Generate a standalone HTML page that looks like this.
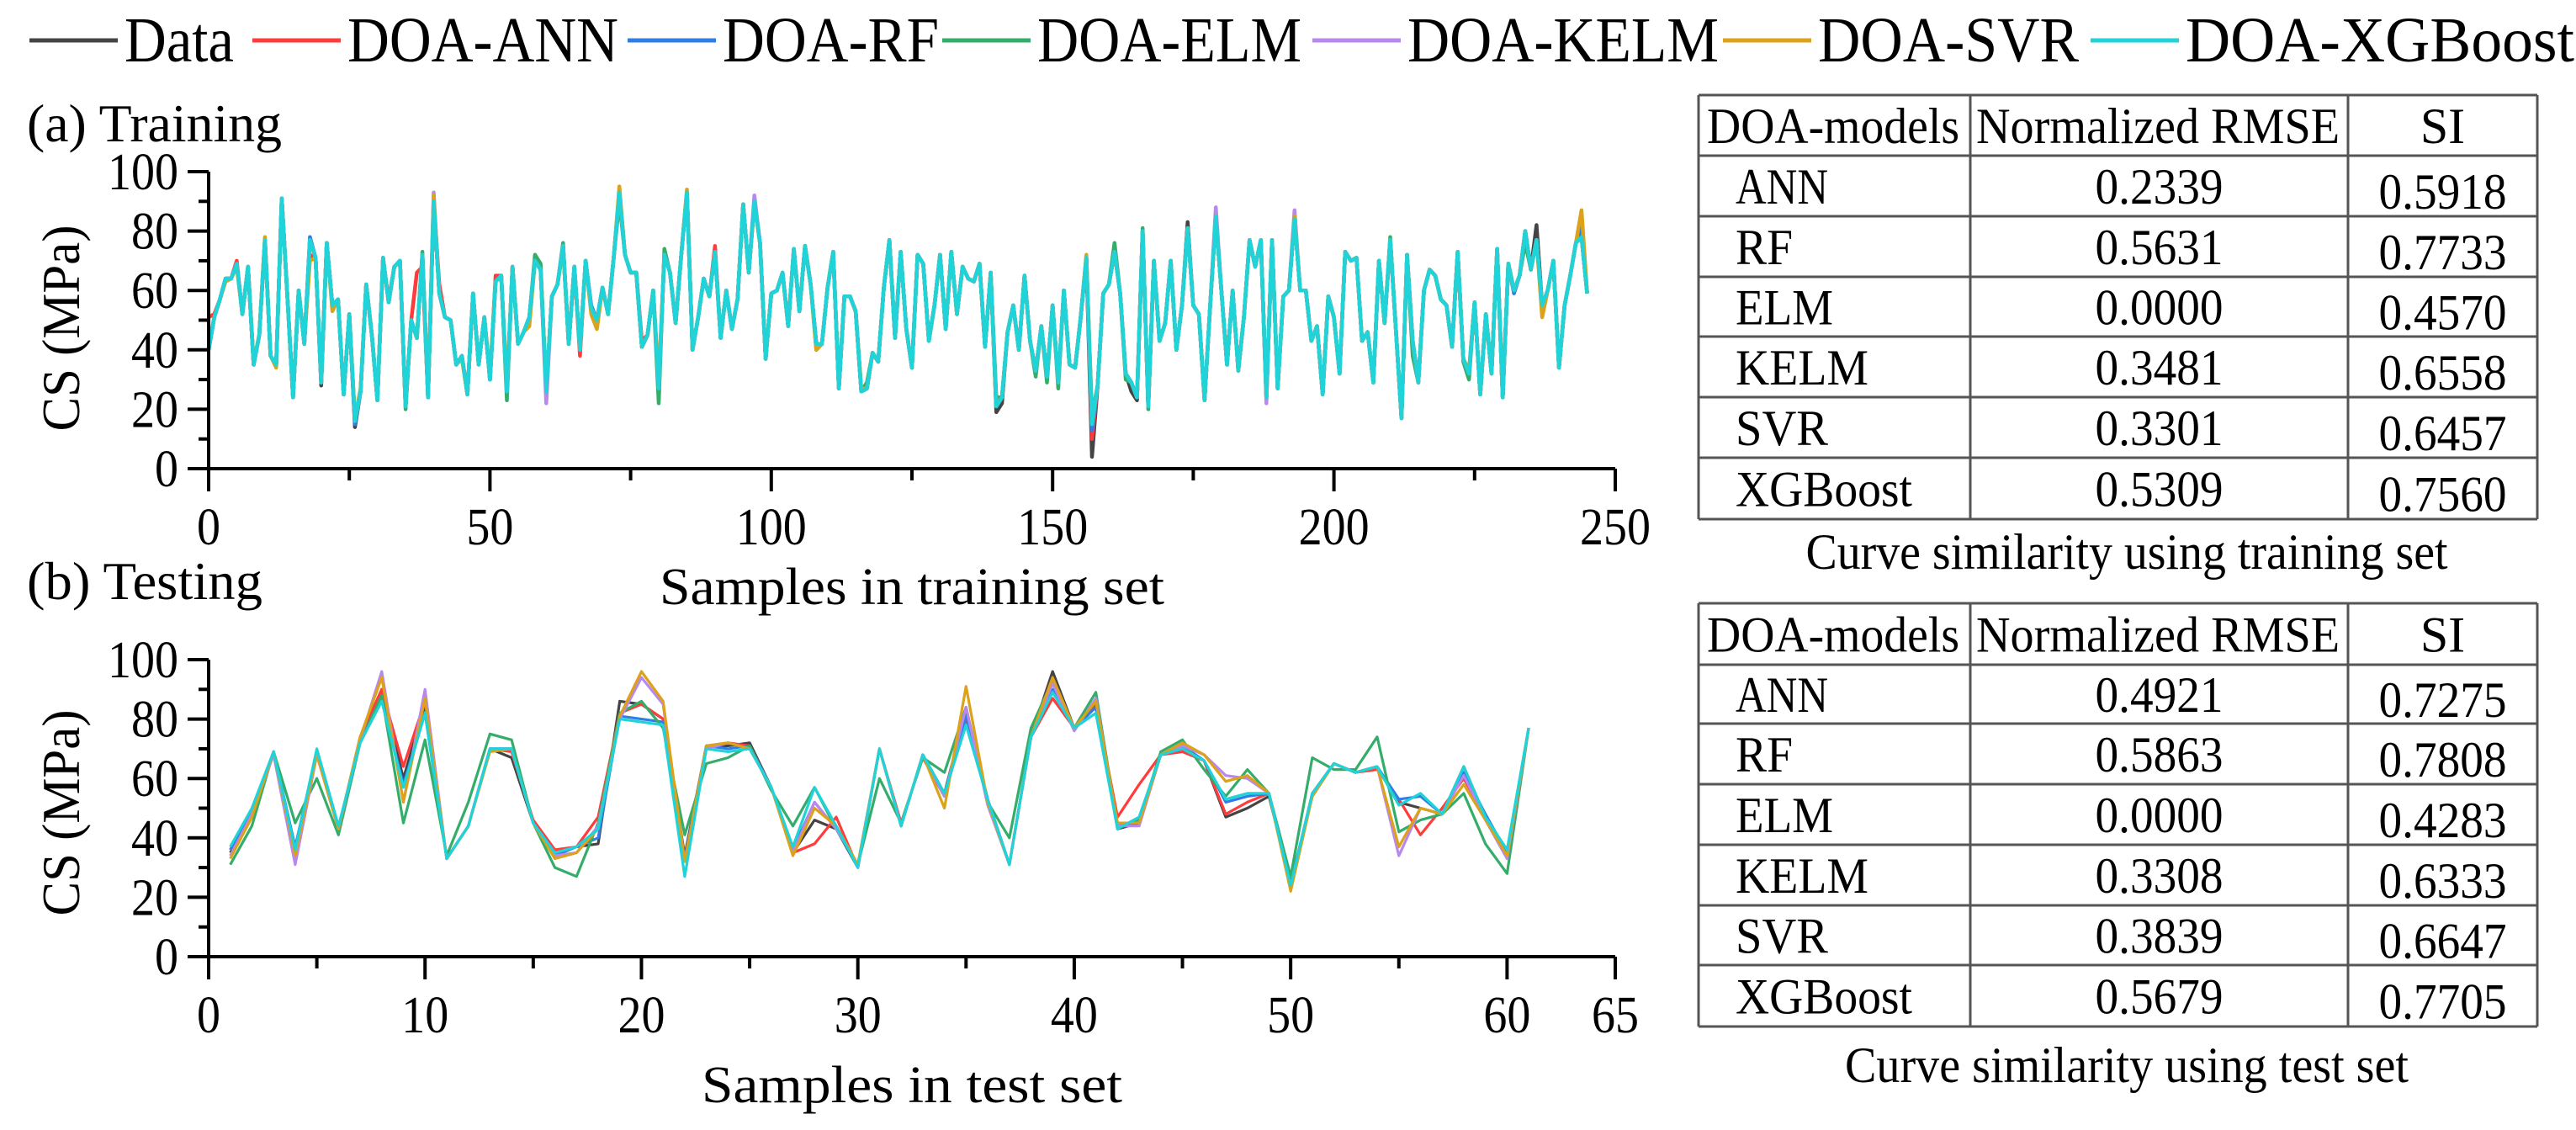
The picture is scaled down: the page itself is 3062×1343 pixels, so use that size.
<!DOCTYPE html>
<html><head><meta charset="utf-8"><style>
html,body{margin:0;padding:0;background:#fff;}
svg{display:block;font-family:"Liberation Serif","DejaVu Serif",serif;}
</style></head><body>
<svg id="fig" width="3062" height="1343" viewBox="0 0 3062 1343" xmlns="http://www.w3.org/2000/svg">
<g id="legend"></g>
<text x="32" y="168" font-size="64" textLength="303" lengthAdjust="spacingAndGlyphs">(a) Training</text>
<text x="32" y="712" font-size="64" textLength="280" lengthAdjust="spacingAndGlyphs">(b) Testing</text>
<text transform="translate(94,390) rotate(-90)" text-anchor="middle" font-size="64" textLength="245" lengthAdjust="spacingAndGlyphs">CS (MPa)</text>
<text transform="translate(94,966) rotate(-90)" text-anchor="middle" font-size="64" textLength="245" lengthAdjust="spacingAndGlyphs">CS (MPa)</text>
<text x="1084" y="718" text-anchor="middle" font-size="62" textLength="600" lengthAdjust="spacingAndGlyphs">Samples in training set</text>
<text x="1084" y="1310" text-anchor="middle" font-size="62" textLength="500" lengthAdjust="spacingAndGlyphs">Samples in test set</text>
<g id="trainChart"></g>
<g id="testChart"></g>
<g id="tables"></g>
<text x="2528" y="676" text-anchor="middle" font-size="60" textLength="763" lengthAdjust="spacingAndGlyphs">Curve similarity using training set</text>
<text x="2528" y="1286" text-anchor="middle" font-size="60" textLength="670" lengthAdjust="spacingAndGlyphs">Curve similarity using test set</text>
</svg>
<script>
const seriesNames = ["Data","DOA-ANN","DOA-RF","DOA-ELM","DOA-KELM","DOA-SVR","DOA-XGBoost"];
const seriesColors = ["#444444","#ff3b3b","#2f7de6","#35ad6a","#b888ee","#dca21a","#1fd3d8"];

const trainData = [40,51,57,64,64,69,52,68,35,45,77,38,35,91,58,24,60,42,77,71,28,76,55,57,25,52,14,26,62,45,23,71,56,68,70,21,50,44,72,24,90,59,51,50,35,38,25,59,35,51,30,63,65,26,68,42,46,51,70,67,26,58,62,75,42,68,40,70,54,50,61,52,71,93,72,66,66,41,45,60,27,72,66,49,72,93,40,51,64,58,73,44,60,47,57,89,66,90,76,37,59,60,66,48,74,53,75,62,42,42,61,73,27,58,58,53,26,27,39,36,61,77,44,73,47,34,72,69,43,55,72,47,73,52,68,64,63,69,41,66,19,22,46,55,40,65,43,33,48,31,55,29,60,35,34,51,71,4,28,59,62,73,59,32,26,23,80,21,70,43,49,70,40,55,83,55,52,23,55,85,60,35,60,33,51,77,68,77,24,77,27,58,60,84,60,60,43,48,25,58,51,32,73,70,71,43,46,29,70,49,77,47,17,72,43,29,60,67,65,57,55,41,73,37,32,56,25,52,32,74,24,69,60,65,80,67,82,55,60,70,34,55,65,76,78,59];
const trainANN = [51,52,57,64,64,70,52,68,35,45,77,38,35,91,58,24,60,42,72,71,29,76,55,57,25,52,16,26,62,45,23,70,57,68,70,21,50,66,68,24,90,62,51,50,35,38,25,59,35,51,30,65,65,26,68,42,46,51,70,67,26,58,62,75,42,68,38,70,54,50,61,52,71,93,72,66,66,43,45,60,27,72,66,49,72,93,40,51,64,58,75,44,60,47,57,89,66,90,76,37,59,60,66,48,74,53,75,62,42,42,61,73,27,58,58,53,26,27,39,36,61,77,44,73,47,34,72,69,43,55,72,47,73,52,68,64,63,69,41,66,22,24,46,55,40,65,43,33,48,31,55,29,60,35,34,51,71,10,28,59,62,73,59,32,29,24,80,21,70,43,49,70,40,55,81,55,52,23,55,85,60,35,60,33,51,77,68,77,24,77,27,58,60,84,60,60,43,48,25,58,51,32,73,70,71,43,46,29,70,49,77,47,17,72,43,29,60,67,65,57,55,41,73,37,32,56,25,52,32,74,24,69,60,65,80,67,77,55,60,70,34,55,65,76,78,59];
const trainRF = [40,51,57,64,64,69,52,68,35,45,77,38,35,91,58,24,60,42,78,71,29,76,55,57,25,52,15,26,62,45,23,71,56,68,70,21,50,44,72,24,90,59,51,50,35,38,25,59,35,51,30,63,65,26,68,42,46,51,70,67,26,58,62,75,42,68,40,70,55,50,61,52,71,93,72,66,66,41,45,60,27,72,66,49,72,93,40,51,64,58,73,44,60,47,57,89,66,90,76,37,59,60,66,48,74,53,75,62,42,42,61,73,27,58,58,53,26,27,39,36,61,77,44,73,47,34,72,69,43,55,72,47,73,52,68,64,63,69,41,66,21,24,46,55,40,65,43,33,48,31,55,29,60,35,34,51,71,13,28,59,62,73,59,32,29,24,80,21,70,43,49,70,40,55,81,55,52,23,55,85,60,35,60,33,51,77,68,77,24,77,27,58,60,84,60,60,43,48,25,58,51,32,73,70,71,43,46,29,70,49,77,47,17,72,43,29,60,67,65,57,55,41,73,37,32,56,25,52,32,74,24,69,59,65,80,67,77,55,60,70,34,55,65,76,81,59];
const trainELM = [40,51,57,64,64,69,52,68,35,45,77,38,35,91,58,24,60,42,77,71,29,76,55,57,25,52,16,26,62,45,23,71,56,68,70,20,50,44,73,24,90,59,51,50,35,38,25,59,35,51,30,63,65,23,68,42,46,51,72,69,26,58,62,76,42,68,40,70,54,50,61,52,71,90,72,66,66,41,45,60,22,74,66,49,72,93,40,51,64,58,73,44,60,47,57,89,66,90,76,37,59,60,66,48,74,53,75,62,40,42,61,73,27,58,58,53,26,29,39,36,61,77,44,73,47,34,72,69,43,55,72,47,73,52,68,64,63,69,41,66,24,24,46,55,40,65,43,31,48,29,55,27,60,35,34,51,71,18,28,59,62,76,59,30,29,24,81,20,70,43,49,70,40,55,81,55,52,23,55,85,60,35,60,33,51,77,68,77,24,77,27,58,60,84,60,60,43,48,25,58,51,32,73,70,71,43,46,29,70,49,78,47,17,72,38,29,60,67,65,57,55,41,73,36,30,56,25,52,32,74,24,69,60,65,76,67,77,55,60,70,34,55,65,76,78,59];
const trainKELM = [40,51,57,64,64,69,52,68,35,45,77,38,35,91,58,24,60,42,77,71,29,76,55,57,25,52,16,26,62,45,23,71,56,68,70,21,50,44,72,24,93,59,51,50,35,38,25,59,35,51,30,63,65,26,68,42,46,51,70,67,22,58,62,75,42,68,40,70,54,50,61,52,71,93,72,66,66,41,45,60,27,72,66,49,72,93,40,51,64,58,73,44,60,47,57,89,66,92,76,37,59,60,66,48,74,53,75,62,42,42,61,73,27,58,58,53,26,27,39,36,61,77,44,73,47,34,72,69,43,55,72,47,73,52,68,64,63,69,41,66,21,24,46,55,40,65,43,33,48,31,55,29,60,35,34,51,71,15,28,59,62,73,59,32,29,24,80,21,70,43,49,70,40,55,81,55,52,23,55,88,60,35,60,33,51,77,68,77,22,77,27,58,60,87,60,60,43,48,25,58,51,32,73,70,71,43,46,29,70,49,77,47,17,72,43,29,60,67,65,57,55,41,73,37,32,56,25,52,32,74,24,69,60,65,80,67,77,55,60,70,34,55,65,76,78,59];
const trainSVR = [41,51,57,63,64,68,52,68,36,45,78,38,34,91,58,24,60,43,70,71,29,76,53,57,25,52,17,27,62,45,23,71,56,68,70,21,50,44,72,24,92,59,51,50,35,37,25,59,35,51,32,63,65,28,68,42,46,48,70,67,27,58,62,74,42,68,40,70,52,47,61,52,71,95,72,66,66,41,45,60,30,72,66,49,72,94,40,51,64,58,73,44,60,47,57,89,66,89,76,37,59,60,66,48,74,53,75,62,40,42,61,73,28,58,58,53,27,27,39,36,61,77,44,73,47,34,72,69,43,55,72,47,73,52,68,64,63,69,41,66,21,24,46,55,40,65,43,33,48,31,55,29,60,35,34,51,72,15,28,59,62,73,59,32,29,24,80,21,70,43,49,70,40,55,81,55,52,23,55,85,60,35,60,33,51,77,68,77,24,77,27,58,60,85,60,60,43,48,25,58,51,32,73,70,71,43,46,29,70,49,77,47,17,72,43,29,60,67,65,57,55,41,73,37,33,56,25,52,32,74,24,69,60,65,80,67,77,51,60,70,34,55,65,76,87,59];
const trainXGB = [40,51,57,64,64,69,52,68,35,45,77,38,35,91,58,24,60,42,77,71,29,76,55,57,25,52,16,26,62,45,23,71,56,68,70,21,50,44,72,24,90,59,51,50,35,38,25,59,35,51,30,63,65,26,68,42,46,51,70,67,26,58,62,75,42,68,40,70,54,50,61,52,71,93,72,66,66,41,45,60,27,72,66,49,72,93,40,51,64,58,73,44,60,47,57,89,66,90,76,37,59,60,66,48,74,53,75,62,42,42,61,73,27,58,58,53,26,27,39,36,61,77,44,73,47,34,72,69,43,55,72,47,73,52,68,64,63,69,41,66,21,24,46,55,40,65,43,33,48,31,55,29,60,35,34,51,71,15,28,59,62,73,59,32,29,24,80,21,70,43,49,70,40,55,81,55,52,23,55,85,60,35,60,33,51,77,68,77,24,77,27,58,60,84,60,60,43,48,25,58,51,32,73,70,71,43,46,29,70,49,77,47,17,72,43,29,60,67,65,57,55,41,73,37,32,56,25,52,32,74,24,69,60,65,80,67,77,55,60,70,34,55,65,76,78,59];

const testData = [35,47,69,32,69,43,73,90,60,85,33,44,70,67,45,35,37,38,86,85,80,34,71,71,72,57,35,46,43,30,70,44,68,55,83,53,31,74,96,77,84,43,45,68,70,66,47,50,54,25,54,65,62,64,52,50,48,64,47,35,77];
const testANN = [36,49,69,33,68,43,74,90,64,86,33,44,70,69,46,36,37,47,82,85,80,33,71,72,71,57,35,38,47,30,70,45,67,54,80,53,31,74,87,77,85,47,58,68,69,66,48,52,55,24,55,65,62,63,53,41,50,60,47,34,77];
const testRF = [36,49,69,37,69,43,72,87,58,82,33,44,70,70,45,34,37,40,81,80,79,33,71,70,71,57,36,52,43,31,70,44,68,54,81,53,31,74,90,77,84,43,47,68,71,66,52,54,55,24,55,65,62,64,53,54,48,62,48,35,77];
const testELM = [31,44,69,45,60,41,72,88,45,73,34,52,75,73,45,30,27,45,82,86,77,41,65,67,71,56,44,57,43,31,60,45,67,62,84,52,40,77,93,77,89,44,46,69,73,63,54,63,55,27,67,63,63,74,42,46,48,55,38,28,77];
const testKELM = [34,48,68,31,68,43,73,96,52,90,33,44,70,70,45,34,35,44,80,94,85,32,70,72,70,57,35,52,43,31,70,44,68,54,84,51,31,74,92,76,87,44,44,68,71,68,61,60,55,23,55,65,62,64,34,50,48,61,46,33,77];
const testSVR = [33,47,69,34,68,43,74,94,52,87,33,44,69,70,45,33,35,43,81,96,86,32,71,72,70,57,34,50,44,31,70,44,68,50,91,52,31,74,94,77,86,45,45,68,72,68,59,61,55,22,54,65,62,64,37,50,48,58,46,34,77];
const testXGB = [37,50,69,36,70,44,72,86,57,82,33,44,70,70,45,35,37,43,80,79,78,27,70,69,70,57,37,57,44,30,70,44,68,55,78,53,31,74,89,77,82,43,47,68,70,66,53,55,55,24,55,65,62,64,51,55,48,64,47,36,77];

const yTicks = [0,20,40,60,80,100];
const trainXTicks = [0,50,100,150,200,250];
const testXTicks = [0,10,20,30,40,50,60,65];

const tableHeader = ["DOA-models","Normalized RMSE","SI"];
const modelNames = ["ANN","RF","ELM","KELM","SVR","XGBoost"];
const trainRMSE = ["0.2339","0.5631","0.0000","0.3481","0.3301","0.5309"];
const trainSI = ["0.5918","0.7733","0.4570","0.6558","0.6457","0.7560"];
const testRMSE = ["0.4921","0.5863","0.0000","0.3308","0.3839","0.5679"];
const testSI = ["0.7275","0.7808","0.4283","0.6333","0.6647","0.7705"];

const NS = "http://www.w3.org/2000/svg";
function mk(tag, attrs, parent){ const e=document.createElementNS(NS,tag); for(const k in attrs) e.setAttribute(k,attrs[k]); parent.appendChild(e); return e; }

const legend = document.getElementById('legend');
const legLineX = [35,300,746,1120,1560,2048,2485];
const legTextW = [130,322,257,314,370,310,462];
seriesNames.forEach((n,i)=>{
  const l = mk('line',{x1:legLineX[i],x2:legLineX[i]+105,y1:48,y2:48,stroke:seriesColors[i],'stroke-width':5},legend);
  
  
  const t = mk('text',{x:legLineX[i]+113,y:73,'font-size':76,textLength:legTextW[i],lengthAdjust:'spacingAndGlyphs'},legend);
  t.textContent = n;
  
  
});

function drawChart(g, key, y0, xMax, xMajor, xMinorStep, xLabels, series, sw){
  const X0=248, X1=1920, H=353;
  const xs = v => X0 + (X1-X0)*v/xMax;
  const ys = v => y0 - H*v/100;
  series.forEach((arr,si)=>{
    const start = key==='test'?1:0;
    const pts = arr.map((v,i)=>xs(i+start).toFixed(1)+','+ys(v).toFixed(1)).join(' ');
    const p = mk('polyline',{points:pts,fill:'none',stroke:seriesColors[si],'stroke-width':sw,'stroke-linejoin':'round'},g);
    
    
  });
  const ax = mk('path',{d:`M${X0},${ys(100)} V${y0} H${X1}`,fill:'none',stroke:'#000','stroke-width':4},g);
  
  
  for(let v=0; v<=100; v+=10){
    const major = v%20===0;
    const tk = mk('line',{x1:X0-(major?25:12),x2:X0,y1:ys(v),y2:ys(v),stroke:'#000','stroke-width':4},g);
    
    
  }
  yTicks.forEach(v=>{
    const s = String(v);
    const t = mk('text',{x:X0-36,y:ys(v)+21,'text-anchor':'end','font-size':62,textLength:28*s.length,lengthAdjust:'spacingAndGlyphs'},g);
    t.textContent = v;
    
    
  });
  for(let v=0; v<=xMax+0.001; v+=xMinorStep){
    const major = xMajor.includes(v);
    const tk = mk('line',{x1:xs(v),x2:xs(v),y1:y0,y2:y0+(major?27:14),stroke:'#000','stroke-width':4},g);
    
    
  }
  xLabels.forEach(v=>{
    const s = String(v);
    const t = mk('text',{x:xs(v),y:y0+90,'text-anchor':'middle','font-size':62,textLength:28*s.length,lengthAdjust:'spacingAndGlyphs'},g);
    t.textContent = v;
    
    
  });
}
drawChart(document.getElementById('trainChart'),'train',557,250,trainXTicks,25,trainXTicks,
  [trainData,trainANN,trainRF,trainELM,trainKELM,trainSVR,trainXGB],4.5);
drawChart(document.getElementById('testChart'),'test',1137,65,testXTicks,5,testXTicks,
  [testData,testANN,testRF,testELM,testKELM,testSVR,testXGB],3.2);

const tg = document.getElementById('tables');
function drawTable(key, rows, rmse, si){
  const L=2019,R=3016,C1=2342,C2=2791;
  const tb = mk('g',{},tg);
  
  
  rows.forEach(y=> mk('line',{x1:L,x2:R,y1:y,y2:y,stroke:'#555','stroke-width':3},tb));
  [L,C1,C2,R].forEach(x=> mk('line',{x1:x,x2:x,y1:rows[0],y2:rows[rows.length-1],stroke:'#555','stroke-width':3},tb));
  const cy = i => (rows[i]+rows[i+1])/2 + 21;
  const h0 = mk('text',{x:L+10,y:cy(0),'font-size':60,textLength:300,lengthAdjust:'spacingAndGlyphs'},tb); h0.textContent=tableHeader[0];
   
  const h1 = mk('text',{x:C1+7,y:cy(0),'font-size':60,textLength:432,lengthAdjust:'spacingAndGlyphs'},tb); h1.textContent=tableHeader[1];
   
  const h2 = mk('text',{x:(C2+R)/2,y:cy(0),'font-size':60,'text-anchor':'middle'},tb); h2.textContent=tableHeader[2];
   
  modelNames.forEach((m,i)=>{
    const a = mk('text',{x:L+44,y:cy(i+1),'font-size':60,textLength:[110,68,116,158,110,210][i],lengthAdjust:'spacingAndGlyphs'},tb); a.textContent=m;
     
    const b = mk('text',{x:(C1+C2)/2,y:cy(i+1),'font-size':60,'text-anchor':'middle',textLength:152,lengthAdjust:'spacingAndGlyphs'},tb); b.textContent=rmse[i];
     
    const c = mk('text',{x:(C2+R)/2,y:cy(i+1)+6,'font-size':60,'text-anchor':'middle',textLength:152,lengthAdjust:'spacingAndGlyphs'},tb); c.textContent=si[i];
     
  });
}
drawTable('train',[113,185,257,329,400,472,544,617],trainRMSE,trainSI);
drawTable('test',[717,790,860,932,1004,1076,1147,1220],testRMSE,testSI);
</script>
</body></html>
